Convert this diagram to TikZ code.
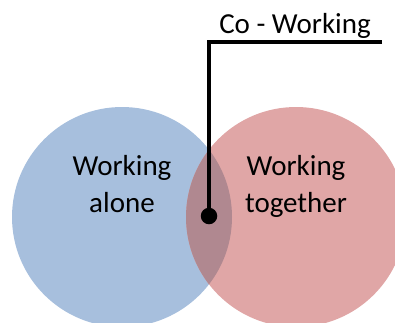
\documentclass[tikz,border=0pt]{standalone}
\usepackage{fontspec}
\setmainfont{Carlito}
\begin{document}
\begin{tikzpicture}[x=1pt,y=-1pt,
  label text/.style={font=\fontsize{29}{37}\selectfont, align=center, inner sep=0pt, text=black},
  leader/.style={line width=3.8pt}]
\useasboundingbox (0,0) rectangle (395,322);
\clip (0,0) rectangle (395,322);
% circles
\coordinate (lc) at (122,217);
\coordinate (rc) at (296,217);
\fill[fill={rgb,255:red,167;green,191;blue,221}] (lc) circle[radius=110];
\fill[fill={rgb,255:red,224;green,166;blue,166}] (rc) circle[radius=110];
\begin{scope}
  \clip (lc) circle[radius=110];
  \fill[fill={rgb,255:red,176;green,136;blue,144}] (rc) circle[radius=110];
\end{scope}
% labels
\node[label text, anchor=north] (alone) at (122,155) {Working\\alone};
\node[label text, anchor=north] (together) at (296,155) {Working\\together};
\node[label text, anchor=base] (co) at (295,33) {Co - Working};
% leader line
\coordinate (lineend) at (382,42);
\coordinate (corner) at (209,42);
\node[circle, fill=black, minimum size=16.5pt, inner sep=0pt] (dot) at (209,216) {};
\draw[leader] (lineend) -- (corner) -- (dot.center);
\end{tikzpicture}
\end{document}
